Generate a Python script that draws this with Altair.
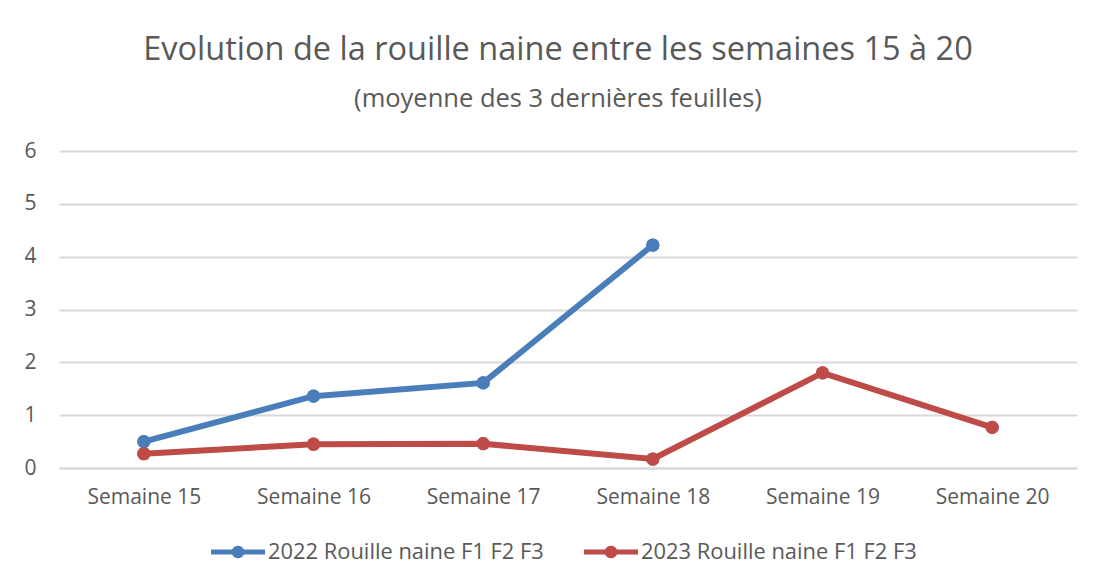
import altair as alt
import pandas as pd

weeks = ["Semaine 15", "Semaine 16", "Semaine 17", "Semaine 18", "Semaine 19", "Semaine 20"]
series_names = ["2022 Rouille naine F1 F2 F3", "2023 Rouille naine F1 F2 F3"]
values_2022 = [0.50, 1.36, 1.61, 4.22, None, None]
values_2023 = [0.27, 0.45, 0.46, 0.17, 1.80, 0.77]
colors = ["#4A7EBB", "#BE4B48"]

rows = []
for name, vals in zip(series_names, [values_2022, values_2023]):
    for w, v in zip(weeks, vals):
        if v is not None:
            rows.append({"Semaine": w, "Série": name, "Valeur": v})
df = pd.DataFrame(rows)

FONT = "Open Sans"
TXT = "#595959"
GRID = "#D9D9D9"

legend_path = ("M-1,-0.09H-0.22A0.24,0.24,0,0,1,0.22,-0.09H1V0.09H0.22"
               "A0.24,0.24,0,0,1,-0.22,0.09H-1Z")

legend = alt.Legend(title=None, orient="none", direction="horizontal",
                    legendX=152, legendY=374,
                    symbolType=legend_path, symbolSize=2916,
                    symbolStrokeWidth=0, symbolOpacity=1,
                    labelFontSize=21.9, labelLimit=0,
                    labelColor=TXT, labelFont=FONT, labelOffset=3,
                    columnPadding=40, padding=0)

x = alt.X("Semaine:N", sort=weeks, title=None,
          scale=alt.Scale(domain=weeks, type="point", padding=0.5),
          axis=alt.Axis(labelAngle=0, labelFontSize=21, labelColor=TXT, labelFont=FONT,
                        ticks=False, domain=True, domainColor=GRID, domainWidth=2,
                        labelPadding=18, grid=False))
y = alt.Y("Valeur:Q", title=None,
          scale=alt.Scale(domain=[0, 6], nice=False),
          axis=alt.Axis(values=[0, 1, 2, 3, 4, 5, 6], format="d", labelFontSize=21,
                        labelColor=TXT, labelFont=FONT, ticks=False, domain=False,
                        grid=True, gridColor=GRID, gridWidth=2, labelPadding=23))
color = alt.Color("Série:N", sort=series_names,
                  scale=alt.Scale(domain=series_names, range=colors),
                  legend=legend)

line = alt.Chart(df).mark_line(strokeWidth=6).encode(x=x, y=y, color=color)
pts = alt.Chart(df).mark_point(filled=True, size=175, opacity=1).encode(x=x, y=y, color=color)

chart = alt.layer(pts, line, pts).properties(
    width=1018, height=317,
    padding={"left": 51, "top": 143, "right": 20, "bottom": 100},
    autosize=alt.AutoSizeParams(type="none"),
    background="white",
    title=alt.TitleParams(
        text="Evolution de la rouille naine entre les semaines 15 à 20",
        subtitle="(moyenne des 3 dernières feuilles)",
        font=FONT, fontSize=32.5, fontWeight="normal", color=TXT,
        subtitleFont=FONT, subtitleFontSize=25.5, subtitleColor=TXT,
        subtitlePadding=20, anchor="middle", offset=28, dx=-10),
).configure_view(stroke=None)

chart.save("out.html", embed_options={"renderer": "svg", "actions": False})
